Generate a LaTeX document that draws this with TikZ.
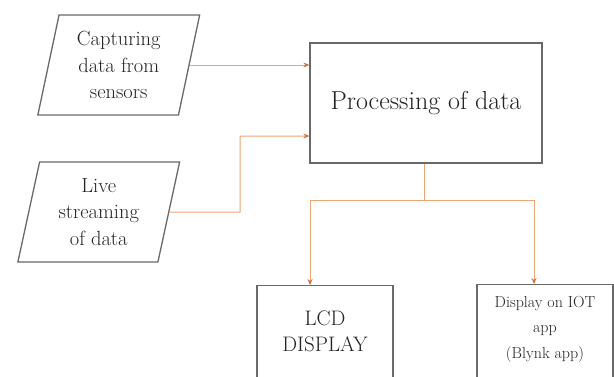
\documentclass[tikz,border=0pt]{standalone}
\usetikzlibrary{shapes.geometric,arrows.meta}
\definecolor{lineor}{RGB}{238,165,115}
\definecolor{tipor}{RGB}{205,115,65}
\definecolor{boxgray}{RGB}{105,105,105}
\definecolor{txtgray}{RGB}{35,35,35}
\begin{document}
\begin{tikzpicture}[x=1pt,y=1pt,
  every node/.style={text=txtgray, inner sep=0pt},
  para/.style={draw=boxgray, line width=1.3pt, shape=trapezium,
    trapezium left angle=77.6, trapezium right angle=102.4,
    trapezium stretches=true, minimum width=162pt, minimum height=100pt,
    align=center, font=\fontsize{20.5}{26.5}\selectfont},
  blk/.style={draw=boxgray, line width=1.3pt, align=center},
  lbl/.style={align=center},
  conn/.style={draw=lineor, line width=1pt, -{Stealth[length=6pt,width=5pt,color=tipor]}}
]
\clip (0,0) rectangle (614,-376);
\fill[white] (0,0) rectangle (614,-376);

\node[para] (cap) at (118.75,-65) {Capturing\\data from\\sensors};
\node[para] (live) at (98.75,-212) {Live\\streaming\\of data};

\node[blk, minimum width=232pt, minimum height=120pt,
  font=\fontsize{26}{30}\selectfont] (proc) at (426,-103) {Processing of data};

\node[blk, minimum width=136pt, minimum height=100pt, anchor=north] (lcd) at (325,-285) {};
\node[blk, minimum width=136pt, minimum height=100pt, anchor=north] (iot) at (545,-284) {};
\node[lbl, font=\fontsize{21}{26}\selectfont] (lcdt) at (325,-331) {LCD\\DISPLAY};
\node[lbl, font=\fontsize{16}{25.5}\selectfont] (iott) at (545,-329) {Display on IOT\\app\\(Blynk app)};

\coordinate (procin2) at ([yshift=-33pt]proc.west);
\coordinate (bend) at (240,-212);
\coordinate (split) at (424,-200);
\coordinate (lcdin) at (310,-285);
\coordinate (iotin) at (534,-284);

\draw[conn] (cap.east) -- (proc.west |- cap.east);
\draw[conn] (live.east) -- (bend) |- (procin2);
\draw[draw=lineor, line width=1pt] ([xshift=-2pt]proc.south) -- ([xshift=-2pt]proc.south |- split);
\draw[conn] (split) -| (lcdin);
\draw[conn] (split) -| (iotin);
\end{tikzpicture}
\end{document}
